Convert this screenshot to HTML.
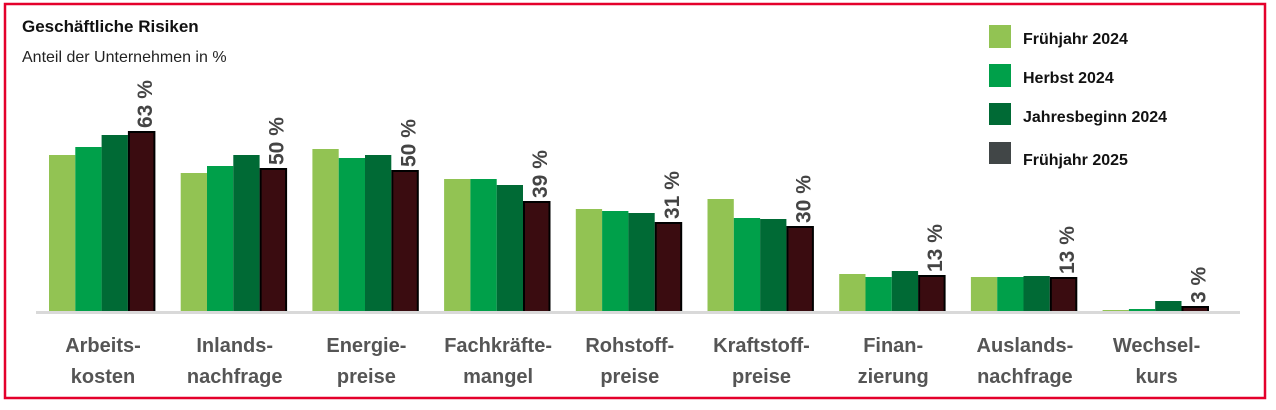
<!DOCTYPE html><html><head><meta charset="utf-8"><style>
body{margin:0;background:#fff;}
svg text{font-family:"Liberation Sans",sans-serif;}
</style></head><body>
<svg width="1276" height="405" xmlns="http://www.w3.org/2000/svg">
<rect x="5" y="4" width="1260" height="394" fill="#fff" stroke="#e4002b" stroke-width="2.5"/>
<text x="22" y="32" font-size="17" font-weight="bold" fill="#111">Geschäftliche Risiken</text>
<text x="22" y="62" font-size="16" fill="#222">Anteil der Unternehmen in %</text>
<g font-size="16" font-weight="bold" fill="#111">
<rect x="989" y="25" width="22" height="23" fill="#92c353"/><text x="1023" y="44">Frühjahr 2024</text>
<rect x="989" y="64" width="22" height="23" fill="#00a04a"/><text x="1023" y="83">Herbst 2024</text>
<rect x="989" y="103" width="22" height="22" fill="#006a35"/><text x="1023" y="122">Jahresbeginn 2024</text>
<rect x="989" y="142" width="22" height="22" fill="#414647"/><text x="1023" y="165">Frühjahr 2025</text>
</g>
<g id="bars"></g>
<rect x="36" y="311" width="1204" height="3" fill="#d9d9d9"/>
<g id="labels" font-size="20" font-weight="bold" fill="#555" text-anchor="middle"></g>
</svg>
<script>
const tops=[[155,147,135,131],[173,166,155,168],[149,158,155,170],[179,179,185,201],[209,211,213,222],[199,218,219,226],[274,277,271,275],[277,277,276,277],[310,309,301,306]];
const vals=["63 %","50 %","50 %","39 %","31 %","30 %","13 %","13 %","3 %"];
const cats=[["Arbeits-","kosten"],["Inlands-","nachfrage"],["Energie-","preise"],["Fachkräfte-","mangel"],["Rohstoff-","preise"],["Kraftstoff-","preise"],["Finan-","zierung"],["Auslands-","nachfrage"],["Wechsel-","kurs"]];
const cols=["#92c353","#00a04a","#006a35","#3a0c10"];
let b="",l="";
tops.forEach((t,g)=>{const x0=49+g*131.7;
 t.forEach((y,i)=>{const x=x0+i*26.3;
  if(i<3)b+=`<rect x="${x}" y="${y}" width="26.3" height="${312-y}" fill="${cols[i]}"/>`;
  else b+=`<rect x="${x+1}" y="${y+1}" width="25.5" height="${311-y}" fill="${cols[i]}" stroke="#000" stroke-width="2"/>`;});
 const cx=x0+92, ty=t[3]-3;
 b+=`<text transform="translate(${cx+11},${ty}) rotate(-90)" font-size="21" font-weight="bold" fill="#444" font-family="Liberation Sans">${vals[g]}</text>`;
 const lx=x0+54;
 l+=`<text x="${lx}" y="352">${cats[g][0]}</text><text x="${lx}" y="383">${cats[g][1]}</text>`;});
document.getElementById("bars").innerHTML=b;document.getElementById("labels").innerHTML=l;
</script>
</body></html>
